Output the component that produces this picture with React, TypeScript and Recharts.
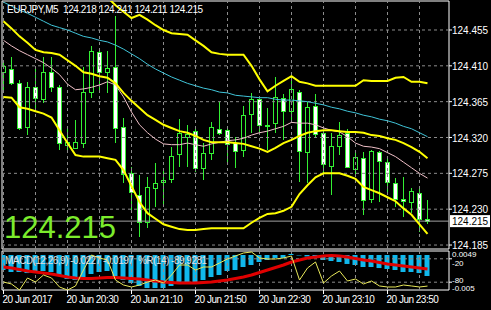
import React from 'react';
import {
  ComposedChart,
  Bar,
  Line,
  XAxis,
  YAxis,
  ReferenceLine,
  ReferenceArea
} from 'recharts';

// EURJPY M5 candles
const opens = [124.402, 124.406, 124.388, 124.333, 124.383, 124.368, 124.402, 124.383, 124.311, 124.307, 124.313, 124.377, 124.427, 124.402, 124.409, 124.333, 124.275, 124.248, 124.214, 124.256, 124.264, 124.268, 124.299, 124.321, 124.328, 124.282, 124.301, 124.331, 124.329, 124.313, 124.304, 124.350, 124.368, 124.335, 124.338, 124.370, 124.353, 124.377, 124.302, 124.360, 124.326, 124.284, 124.309, 124.326, 124.280, 124.294, 124.243, 124.302, 124.289, 124.263, 124.243, 124.239, 124.250, 124.218];
const highs = [124.414, 124.421, 124.392, 124.390, 124.409, 124.421, 124.421, 124.386, 124.333, 124.342, 124.409, 124.435, 124.432, 124.429, 124.473, 124.345, 124.283, 124.273, 124.270, 124.288, 124.279, 124.308, 124.343, 124.336, 124.332, 124.313, 124.340, 124.365, 124.333, 124.321, 124.360, 124.376, 124.371, 124.357, 124.396, 124.375, 124.396, 124.380, 124.365, 124.375, 124.329, 124.326, 124.340, 124.331, 124.302, 124.302, 124.304, 124.303, 124.296, 124.269, 124.270, 124.256, 124.256, 124.241];
const lows = [124.380, 124.386, 124.329, 124.323, 124.355, 124.363, 124.377, 124.304, 124.302, 124.306, 124.307, 124.370, 124.378, 124.376, 124.313, 124.263, 124.225, 124.195, 124.206, 124.233, 124.233, 124.263, 124.283, 124.283, 124.277, 124.267, 124.292, 124.323, 124.289, 124.282, 124.296, 124.326, 124.323, 124.304, 124.326, 124.317, 124.342, 124.264, 124.263, 124.319, 124.275, 124.248, 124.298, 124.282, 124.270, 124.223, 124.238, 124.239, 124.248, 124.233, 124.220, 124.225, 124.201, 124.211];
const closes = [124.410, 124.388, 124.332, 124.383, 124.370, 124.402, 124.383, 124.313, 124.314, 124.314, 124.377, 124.429, 124.402, 124.407, 124.332, 124.274, 124.252, 124.214, 124.258, 124.263, 124.267, 124.297, 124.326, 124.324, 124.282, 124.301, 124.333, 124.326, 124.312, 124.303, 124.348, 124.368, 124.336, 124.336, 124.371, 124.353, 124.381, 124.303, 124.358, 124.324, 124.287, 124.309, 124.323, 124.283, 124.296, 124.242, 124.303, 124.290, 124.264, 124.243, 124.240, 124.253, 124.218, 124.215];

// indicator lines
const bandUpper = [124.520, 124.520, 124.519, 124.518, 124.518, 124.517, 124.517, 124.516, 124.516, 124.515, 124.515, 124.510, 124.504, 124.496, 124.486, 124.478, 124.470, 124.474, 124.468, 124.461, 124.455, 124.451, 124.450, 124.449, 124.442, 124.435, 124.427, 124.425, 124.424, 124.424, 124.424, 124.410, 124.393, 124.378, 124.385, 124.391, 124.397, 124.390, 124.388, 124.385, 124.385, 124.385, 124.385, 124.385, 124.385, 124.392, 124.391, 124.391, 124.391, 124.395, 124.396, 124.390, 124.390, 124.388];
const bandMiddle = [124.466, 124.457, 124.447, 124.439, 124.430, 124.427, 124.426, 124.424, 124.417, 124.410, 124.402, 124.400, 124.397, 124.395, 124.388, 124.376, 124.366, 124.357, 124.348, 124.342, 124.336, 124.332, 124.328, 124.326, 124.322, 124.317, 124.314, 124.314, 124.314, 124.313, 124.312, 124.309, 124.306, 124.302, 124.307, 124.313, 124.317, 124.322, 124.326, 124.328, 124.329, 124.329, 124.328, 124.327, 124.327, 124.326, 124.323, 124.322, 124.319, 124.317, 124.313, 124.308, 124.302, 124.294];
const bandLower = [124.371, 124.370, 124.358, 124.356, 124.353, 124.350, 124.345, 124.329, 124.313, 124.298, 124.296, 124.296, 124.296, 124.294, 124.292, 124.279, 124.259, 124.239, 124.225, 124.218, 124.211, 124.208, 124.205, 124.204, 124.204, 124.205, 124.206, 124.206, 124.206, 124.206, 124.206, 124.213, 124.219, 124.224, 124.225, 124.228, 124.233, 124.249, 124.260, 124.270, 124.275, 124.275, 124.275, 124.272, 124.268, 124.258, 124.254, 124.250, 124.245, 124.240, 124.231, 124.223, 124.211, 124.199];
const maSlow = [124.490, 124.485, 124.480, 124.476, 124.471, 124.466, 124.461, 124.458, 124.455, 124.451, 124.447, 124.445, 124.442, 124.440, 124.436, 124.431, 124.425, 124.419, 124.412, 124.406, 124.401, 124.396, 124.392, 124.388, 124.385, 124.382, 124.380, 124.377, 124.376, 124.373, 124.372, 124.371, 124.370, 124.370, 124.368, 124.367, 124.367, 124.366, 124.365, 124.363, 124.361, 124.358, 124.356, 124.353, 124.351, 124.348, 124.346, 124.343, 124.341, 124.338, 124.334, 124.331, 124.326, 124.321];
const maFast = [124.442, 124.435, 124.429, 124.424, 124.419, 124.414, 124.407, 124.399, 124.387, 124.380, 124.381, 124.383, 124.386, 124.390, 124.386, 124.371, 124.352, 124.336, 124.326, 124.318, 124.312, 124.311, 124.311, 124.313, 124.311, 124.309, 124.312, 124.314, 124.316, 124.317, 124.319, 124.323, 124.326, 124.328, 124.331, 124.334, 124.339, 124.338, 124.338, 124.336, 124.332, 124.329, 124.327, 124.321, 124.313, 124.309, 124.308, 124.306, 124.301, 124.296, 124.289, 124.282, 124.275, 124.269];

// MACD(12,26,9) and %R(14) sub window
const macdMain = [-0.0162, -0.0184, -0.0184, -0.0195, -0.0184, -0.0173, -0.0184, -0.0227, -0.0259, -0.0270, -0.0249, -0.0205, -0.0184, -0.0173, -0.0227, -0.0270, -0.0303, -0.0335, -0.0357, -0.0357, -0.0357, -0.0335, -0.0314, -0.0303, -0.0292, -0.0270, -0.0238, -0.0216, -0.0173, -0.0162, -0.0130, -0.0108, -0.0076, -0.0054, -0.0032, -0.0032, 0.0011, -0.0005, -0.0016, -0.0022, -0.0054, -0.0065, -0.0076, -0.0097, -0.0108, -0.0130, -0.0130, -0.0141, -0.0151, -0.0162, -0.0184, -0.0184, -0.0195, -0.0227];
const macdSignal = [-0.0130, -0.0141, -0.0157, -0.0173, -0.0184, -0.0195, -0.0205, -0.0222, -0.0238, -0.0249, -0.0254, -0.0254, -0.0249, -0.0243, -0.0243, -0.0249, -0.0254, -0.0259, -0.0270, -0.0281, -0.0292, -0.0297, -0.0303, -0.0303, -0.0303, -0.0297, -0.0292, -0.0281, -0.0270, -0.0254, -0.0238, -0.0216, -0.0189, -0.0162, -0.0135, -0.0108, -0.0076, -0.0054, -0.0032, -0.0022, -0.0011, -0.0005, -0.0011, -0.0022, -0.0038, -0.0054, -0.0065, -0.0081, -0.0097, -0.0108, -0.0119, -0.0130, -0.0141, -0.0151];
const williamsR = [-79.5, -84.6, -100, -69.2, -79.5, -61.5, -69.2, -92.3, -100, -89.7, -48.7, -10.3, -17.9, -23.1, -74.4, -87.2, -92.3, -87.2, -79.5, -74.4, -82.1, -61.5, -35.9, -35.9, -48.7, -41.0, -41.0, -30.8, -20.5, -12.8, -5.1, -2.6, -17.9, -20.5, -20.5, -17.9, -12.8, -74.4, -43.6, -28.2, -82.1, -64.1, -51.3, -76.9, -71.8, -84.6, -76.9, -89.7, -92.3, -92.3, -87.2, -89.7, -92.3, -89.9281];

const priceTicks = [124.185, 124.23, 124.275, 124.32, 124.365, 124.41, 124.455];
const gridBars = [0, 4, 8, 12, 16, 20, 24, 28, 32, 36, 40, 44, 48, 52];
const timeTicks = [0, 8, 16, 24, 32, 40, 48];
const timeLabels = ['20 Jun 2017', '20 Jun 20:30', '20 Jun 21:10', '20 Jun 21:50', '20 Jun 22:30', '20 Jun 23:10', '20 Jun 23:50'];
const wprLevels = [-20, -80];
const subScaleLabels = ['0.0049', '-0.005'];
const lastPrice = 124.215;
const titleText = 'EURJPY,M5  124.218 124.241 124.211 124.215';
const subTitleText = 'MACD(12,26,9) -0.0227 -0.0197  %R(14) -89.9281';

const data = opens.map((o, i) => ({
  i,
  range: [lows[i], highs[i]],
  open: o,
  high: highs[i],
  low: lows[i],
  close: closes[i],
  upper: bandUpper[i],
  middle: bandMiddle[i],
  lower: bandLower[i],
  slow: maSlow[i],
  fast: maFast[i],
  macd: macdMain[i],
  signal: macdSignal[i],
  wpr: williamsR[i]
}));

const FONT = '"Liberation Sans", Arial, sans-serif';
const GRID = '#8c8c8c';
const CANDLE = '#33f033';
const xDomain = [-0.1875, 55.6875];
const priceDomain = [124.18, 124.4914];
const macdDomain = [-0.0378, 0.0043];

const Candle = (props: any) => {
  const { x, y, width, height, payload } = props;
  const top = Math.min(y, y + height);
  const h = Math.abs(height);
  const span = payload.high - payload.low || 1;
  const toY = (v: number) => top + ((payload.high - v) / span) * h;
  const cx = Math.round(x + width / 2 - 0.5) + 0.5;
  const bodyTop = Math.round(toY(Math.max(payload.open, payload.close))) + 0.5;
  const bodyBottom = Math.max(bodyTop + 1, Math.round(toY(Math.min(payload.open, payload.close))) + 0.5);
  const bear = payload.close < payload.open;
  return (
    <g shapeRendering="crispEdges">
      <line x1={cx} x2={cx} y1={toY(payload.high)} y2={toY(payload.low)} stroke={CANDLE} />
      <rect x={cx - 2} y={bodyTop} width={4} height={bodyBottom - bodyTop} fill={bear ? '#ffffff' : '#000000'} stroke={CANDLE} />
    </g>
  );
};

const PriceTick = (props: any) => {
  const { x, y, payload } = props;
  return (
    <text x={x} y={y} dy={4} fill="#fff" fontSize={10} fontFamily={FONT} textAnchor="start">
      {payload.value.toFixed(3)}
    </text>
  );
};

const PriceTag = (props: any) => {
  const { viewBox } = props;
  if (!viewBox) return null;
  const right = viewBox.x + viewBox.width;
  return (
    <g>
      <rect x={right + 1} y={viewBox.y - 6} width={40} height={12} fill="#fff" />
      <text x={right + 3} y={viewBox.y + 4} fill="#000" fontSize={10} fontFamily={FONT}>
        {lastPrice.toFixed(3)}
      </text>
    </g>
  );
};

const TimeTick = (props: any) => {
  const { x, y, payload } = props;
  return (
    <text x={x - 1} y={y} dy={7} fill="#fff" fontSize={10} fontFamily={FONT} letterSpacing={-0.5} textAnchor="start">
      {timeLabels[timeTicks.indexOf(payload.value)]}
    </text>
  );
};

// %R levels with the MACD scale labels stacked next to them
const SubTick = (props: any) => {
  const { x, y, payload } = props;
  const k = wprLevels.indexOf(payload.value);
  const upper = k === 0;
  return (
    <g>
      <text x={x} y={y} dy={upper ? -1.5 : 9} fill="#fff" fontSize={8} fontFamily={FONT}>{subScaleLabels[k]}</text>
      <text x={x} y={y} dy={upper ? 7 : 1} fill="#fff" fontSize={8} fontFamily={FONT}>{payload.value}</text>
    </g>
  );
};

export default function App() {
  return (
    <div style={{ position: 'absolute', left: 0, top: 0, width: 491, height: 310, background: '#000', overflow: 'hidden' }}>
      <ComposedChart width={491} height={250} data={data} margin={{ top: 1, right: 0, bottom: 1, left: 2 }}>
        <XAxis dataKey="i" type="number" domain={xDomain} allowDataOverflow hide />
        <YAxis
          orientation="right"
          width={42}
          domain={priceDomain}
          allowDataOverflow
          ticks={priceTicks}
          interval={0}
          axisLine={false}
          tickLine={{ stroke: '#fff' }}
          tickSize={3}
          tickMargin={0}
          tick={<PriceTick />}
        />
        {priceTicks.map((p) => (
          <ReferenceLine key={'h' + p} y={p} stroke={GRID} strokeDasharray="3 3" />
        ))}
        {gridBars.map((b) => (
          <ReferenceLine key={'v' + b} x={b} stroke={GRID} strokeDasharray="3 3" />
        ))}
        <ReferenceLine y={lastPrice} stroke="#a0a0a0" label={<PriceTag />} />
        <Bar dataKey="range" barSize={5} shape={<Candle />} isAnimationActive={false} />
        <Line type="linear" dataKey="slow" stroke="#40c4d8" strokeWidth={1} dot={false} isAnimationActive={false} />
        <Line type="linear" dataKey="fast" stroke="#f0c0c8" strokeWidth={1} dot={false} isAnimationActive={false} />
        <Line type="linear" dataKey="upper" stroke="#ffff00" strokeWidth={2} dot={false} isAnimationActive={false} />
        <Line type="linear" dataKey="middle" stroke="#ffff00" strokeWidth={2} dot={false} isAnimationActive={false} />
        <Line type="linear" dataKey="lower" stroke="#ffff00" strokeWidth={2} dot={false} isAnimationActive={false} />
        <ReferenceArea x1={xDomain[0]} x2={xDomain[1]} y1={priceDomain[0]} y2={priceDomain[1]} fill="none" stroke="#fff" strokeOpacity={1} />
      </ComposedChart>

      <div style={{ position: 'absolute', left: 0, top: 250 }}>
        <ComposedChart width={491} height={60} data={data} margin={{ top: 1, right: 0, bottom: 0, left: 2 }}>
          <XAxis
            dataKey="i"
            type="number"
            domain={xDomain}
            allowDataOverflow
            ticks={timeTicks}
            interval={0}
            height={20}
            axisLine={false}
            tickLine={{ stroke: '#fff' }}
            tickSize={4}
            tickMargin={2}
            tick={<TimeTick />}
          />
          <YAxis yAxisId="macd" domain={macdDomain} allowDataOverflow hide />
          <YAxis
            yAxisId="wpr"
            orientation="right"
            width={42}
            domain={[-100, 0]}
            ticks={wprLevels}
            interval={0}
            axisLine={false}
            tickLine={{ stroke: '#fff' }}
            tickSize={3}
            tickMargin={0}
            tick={<SubTick />}
          />
          {wprLevels.map((v) => (
            <ReferenceLine key={'w' + v} yAxisId="wpr" y={v} stroke={GRID} strokeDasharray="3 3" />
          ))}
          {gridBars.map((b) => (
            <ReferenceLine key={'sv' + b} yAxisId="wpr" x={b} stroke={GRID} strokeDasharray="3 3" />
          ))}
          <Bar yAxisId="macd" dataKey="macd" barSize={5} fill="#10b8ec" isAnimationActive={false} />
          <Line yAxisId="macd" type="linear" dataKey="signal" stroke="#e00000" strokeWidth={3} dot={false} isAnimationActive={false} />
          <Line yAxisId="wpr" type="linear" dataKey="wpr" stroke="#e8e85a" strokeWidth={1} dot={false} isAnimationActive={false} />
          <ReferenceArea yAxisId="wpr" x1={xDomain[0]} x2={xDomain[1]} y1={-100} y2={0} fill="none" stroke="#fff" strokeOpacity={1} />
        </ComposedChart>
      </div>

      <div style={{ position: 'absolute', left: 7, top: 5, color: '#fff', font: `10px/10px ${FONT}`, letterSpacing: -0.4, whiteSpace: 'pre' }}>
        {titleText}
      </div>
      <div style={{ position: 'absolute', left: 5, top: 256, color: '#e0e0e0', font: `10px/10px ${FONT}`, letterSpacing: -0.5, whiteSpace: 'pre' }}>
        {subTitleText}
      </div>
      <div style={{ position: 'absolute', left: 4, top: 212, color: '#7cec2c', font: `31px/31px ${FONT}` }}>
        {lastPrice.toFixed(3)}
      </div>
    </div>
  );
}
